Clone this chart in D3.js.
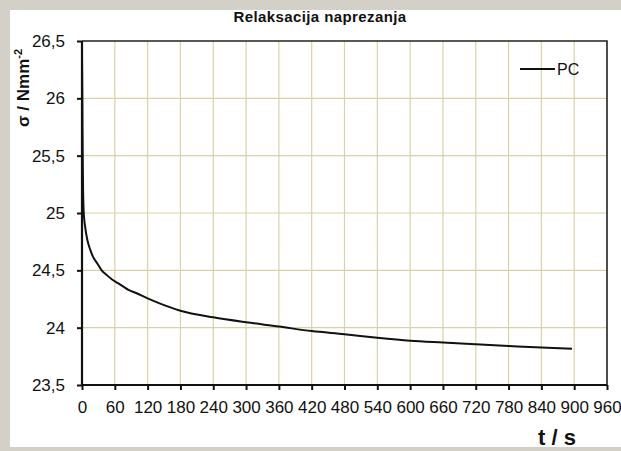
<!DOCTYPE html>
<html>
<head>
<meta charset="utf-8">
<script src="https://cdn.jsdelivr.net/npm/d3@7"></script>
<style>
  html, body { margin: 0; padding: 0; background: #d3d0c8; }
  svg { display: block; }
  text { font-family: "Liberation Sans", Arial, sans-serif; fill: #111; }
</style>
</head>
<body>
<svg id="chart" width="621" height="451"></svg>
<script>
// Stress relaxation of PC: time (s) and stress (N/mm²)
const timeS = [0, 0.5, 1, 1.5, 2, 3, 4, 6, 10, 15, 20, 28, 36, 45, 55, 65, 75, 85, 100, 118, 143, 180, 240, 300, 360, 420, 480, 540, 600, 660, 720, 780, 840, 896];
const stressPC = [26.4, 26.1, 25.7, 25.4, 25.2, 25.02, 24.95, 24.87, 24.76, 24.68, 24.62, 24.56, 24.5, 24.46, 24.42, 24.39, 24.36, 24.33, 24.3, 24.26, 24.21, 24.148, 24.09, 24.047, 24.01, 23.97, 23.943, 23.912, 23.886, 23.87, 23.855, 23.84, 23.826, 23.817];

const xTicks = [0, 60, 120, 180, 240, 300, 360, 420, 480, 540, 600, 660, 720, 780, 840, 900, 960];
const yTicks = [23.5, 24, 24.5, 25, 25.5, 26, 26.5];

const titleText = "Relaksacija naprezanja";
const xTitle = "t / s";
const seriesName = "PC";

const svg = d3.select("#chart");
const W = 621;

// white panel on grey page
svg.append("rect").attr("x", 10).attr("y", 10).attr("width", W - 10).attr("height", 437).attr("fill", "#ffffff");

const plot = { left: 82, top: 41, right: 607, bottom: 385 };

const x = d3.scaleLinear().domain([0, 960]).range([plot.left, plot.right]);
const y = d3.scaleLinear().domain([23.5, 26.5]).range([plot.bottom, plot.top]);

const fmt = d => String(d).replace(".", ",");

// grid
const grid = svg.append("g").attr("stroke", "#d9d2a6").attr("stroke-width", 1.2);
grid.selectAll("line.v").data(xTicks.slice(1, -1)).join("line")
  .attr("x1", d => x(d)).attr("x2", d => x(d))
  .attr("y1", plot.top).attr("y2", plot.bottom);
grid.selectAll("line.h").data(yTicks.slice(1, -1)).join("line")
  .attr("y1", d => y(d)).attr("y2", d => y(d))
  .attr("x1", plot.left).attr("x2", plot.right);

// frame: top and right edges
svg.append("path")
  .attr("d", `M${plot.left},${plot.top}H${plot.right}V${plot.bottom}`)
  .attr("fill", "none").attr("stroke", "#222").attr("stroke-width", 1.6);

// axes
const xAxis = d3.axisBottom(x).tickValues(xTicks).tickSize(5).tickPadding(11).tickFormat(fmt);
const yAxis = d3.axisLeft(y).tickValues(yTicks).tickSize(5).tickPadding(12).tickFormat(fmt);

const gx = svg.append("g").attr("transform", `translate(0,${plot.bottom})`).call(xAxis);
const gy = svg.append("g").attr("transform", `translate(${plot.left},0)`).call(yAxis);

[gx, gy].forEach(g => {
  g.select(".domain").attr("stroke", "#111").attr("stroke-width", 2.2);
  g.selectAll(".tick line").attr("stroke", "#111").attr("stroke-width", 2);
  g.selectAll(".tick text").attr("font-family", "Liberation Sans, Arial, sans-serif")
    .attr("font-size", 17).attr("fill", "#111");
});
gx.select(".domain").attr("d", `M${plot.left},0H${plot.right}`);
gy.select(".domain").attr("d", `M0,${plot.bottom}V${plot.top}`);

// data line
const line = d3.line().x((d, i) => x(timeS[i])).y(d => y(d)).curve(d3.curveMonotoneX);
svg.append("path").datum(stressPC)
  .attr("d", line).attr("fill", "none").attr("stroke", "#111").attr("stroke-width", 2);

// legend
svg.append("line").attr("x1", 520).attr("x2", 555).attr("y1", 69).attr("y2", 69)
  .attr("stroke", "#111").attr("stroke-width", 2);
svg.append("text").attr("x", 557).attr("y", 75).attr("font-size", 16).text(seriesName);

// titles
svg.append("text").attr("x", 320).attr("y", 22).attr("text-anchor", "middle")
  .attr("font-size", 15).attr("letter-spacing", 0.4).attr("font-weight", "bold").text(titleText);

svg.append("text").attr("x", 557).attr("y", 445).attr("text-anchor", "middle")
  .attr("font-size", 22).attr("font-weight", "bold").text(xTitle);

const yt = svg.append("text").attr("transform", "translate(29,88) rotate(-90)")
  .attr("text-anchor", "middle").attr("font-size", 17).attr("font-weight", "bold");
yt.append("tspan").text("σ / Nmm");
yt.append("tspan").attr("font-size", 11).attr("dy", -7).text("-2");
</script>
</body>
</html>
